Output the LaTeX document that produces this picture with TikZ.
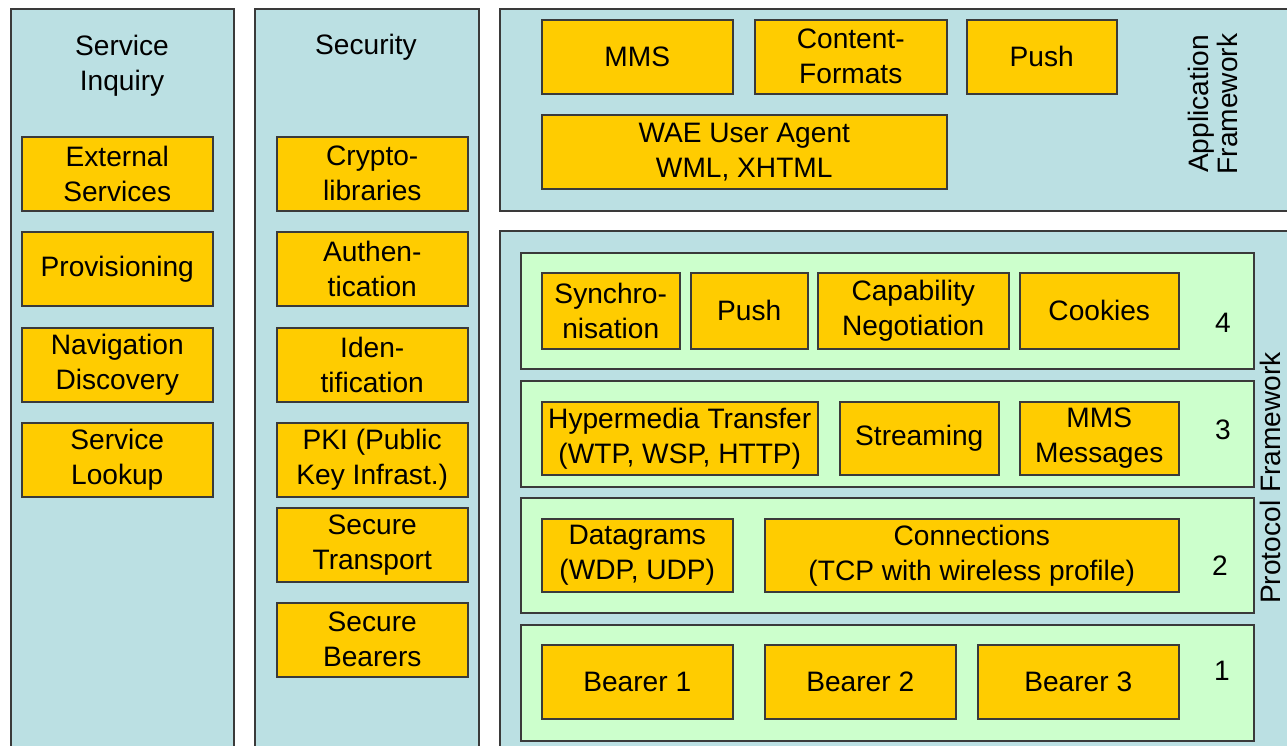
\documentclass[tikz,border=0pt]{standalone}
\usepackage{fontspec}
\setmainfont{Liberation Sans}

\definecolor{panelblue}{HTML}{BBE0E3}
\definecolor{stackgreen}{HTML}{CCFFCC}
\definecolor{blockyellow}{HTML}{FFCC00}
\definecolor{edgegray}{HTML}{3A3A3A}

% one drawing unit
\newcommand{\pxl}{0.2mm}

\tikzset{
  panel/.style={draw=edgegray, fill=panelblue, line width=0.3mm, anchor=north west, inner sep=0pt},
  stack/.style={draw=edgegray, fill=stackgreen, line width=0.3mm, anchor=north west, inner sep=0pt, minimum width=733*\pxl},
  block/.style={draw=edgegray, fill=blockyellow, line width=0.3mm, anchor=north west, inner sep=0pt, align=center, minimum height=74*\pxl},
}

\begin{document}
\begin{tikzpicture}[x=\pxl, y=-\pxl, font=\fontsize{16pt}{19.9pt}\selectfont]

\useasboundingbox (0,0) rectangle (1287,745);
\clip (0,0) rectangle (1287,745);

% left columns
\node[panel, minimum width=223*\pxl, minimum height=760*\pxl] at ( 10, 8) (inquiry) {};
\node[panel, minimum width=224*\pxl, minimum height=760*\pxl] at (254, 8) (security) {};
\node[align=center] at (122, 66) (inqtitle) {Service\\Inquiry};
\node at (366, 47) (sectitle) {Security};

% service inquiry
\node[block, minimum width=191*\pxl] at ( 21, 136) (extserv) {External\\Services};
\node[block, minimum width=191*\pxl] at ( 21, 231) (provis) {Provisioning};
\node[block, minimum width=191*\pxl] at ( 21, 327) (navdisc) {Navigation\\Discovery};
\node[block, minimum width=191*\pxl] at ( 21, 422) (lookup) {Service\\Lookup};

% security
\node[block, minimum width=191*\pxl] at (276, 136) (crypto) {Crypto-\\libraries};
\node[block, minimum width=191*\pxl] at (276, 231) (authent) {Authen-\\tication};
\node[block, minimum width=191*\pxl] at (276, 327) (ident) {Iden-\\tification};
\node[block, minimum width=191*\pxl] at (276, 422) (pki) {PKI (Public\\Key Infrast.)};
\node[block, minimum width=191*\pxl] at (276, 507) (sectrans) {Secure\\Transport};
\node[block, minimum width=191*\pxl] at (276, 602) (secbear) {Secure\\Bearers};

% application framework
\node[panel, minimum width=800*\pxl, minimum height=202*\pxl] at (499, 8) (appframe) {};
\node[block, minimum width=191*\pxl] at (541, 19) (mms) {MMS};
\node[block, minimum width=192*\pxl] at (754, 19) (content) {Content-\\Formats};
\node[block, minimum width=150*\pxl] at (966, 19) (apppush) {Push};
\node[block, minimum width=405*\pxl] at (541, 114) (wae) {WAE User Agent\\WML, XHTML};
\node[rotate=90, align=center, font=\fontsize{16pt}{17pt}\selectfont] at (1213, 104) (apptitle) {Application\\Framework};

% protocol framework
\node[panel, minimum width=800*\pxl, minimum height=530*\pxl] at (499, 230) (protframe) {};
\node[stack, minimum height=116*\pxl] at (520, 252) (layer4) {};
\node[stack, minimum height=106*\pxl] at (520, 380) (layer3) {};
\node[stack, minimum height=115*\pxl] at (520, 497) (layer2) {};
\node[stack, minimum height=116*\pxl] at (520, 624) (layer1) {};
\node[rotate=90, inner sep=1pt] at (1270, 478) (prottitle) {Protocol Framework};

% layer 4
\node[block, minimum width=138*\pxl, minimum height=76*\pxl] at ( 541, 272) (sync) {Synchro-\\nisation};
\node[block, minimum width=117*\pxl, minimum height=76*\pxl] at ( 690, 272) (protpush) {Push};
\node[block, minimum width=191*\pxl, minimum height=76*\pxl] at ( 817, 272) (capneg) {Capability\\Negotiation};
\node[block, minimum width=159*\pxl, minimum height=76*\pxl] at (1019, 272) (cookies) {Cookies};
\node at (1223, 323) (num4) {4};

% layer 3
\node[block, minimum width=276*\pxl, minimum height=73*\pxl] at ( 541, 401) (hyper) {Hypermedia Transfer\\(WTP, WSP, HTTP)};
\node[block, minimum width=159*\pxl, minimum height=73*\pxl] at ( 839, 401) (stream) {Streaming};
\node[block, minimum width=159*\pxl, minimum height=73*\pxl] at (1019, 401) (mmsmsg) {MMS\\Messages};
\node at (1223, 430) (num3) {3};

% layer 2
\node[block, minimum width=191*\pxl, minimum height=73*\pxl] at ( 541, 518) (datagr) {Datagrams\\(WDP, UDP)};
\node[block, minimum width=414*\pxl, minimum height=73*\pxl] at ( 764, 518) (conn) {Connections\\(TCP with wireless profile)};
\node at (1220, 566) (num2) {2};

% layer 1
\node[block, minimum width=191*\pxl] at ( 541, 644) (bearer1) {Bearer 1};
\node[block, minimum width=191*\pxl] at ( 764, 644) (bearer2) {Bearer 2};
\node[block, minimum width=201*\pxl] at ( 977, 644) (bearer3) {Bearer 3};
\node at (1222, 671) (num1) {1};

\end{tikzpicture}
\end{document}
